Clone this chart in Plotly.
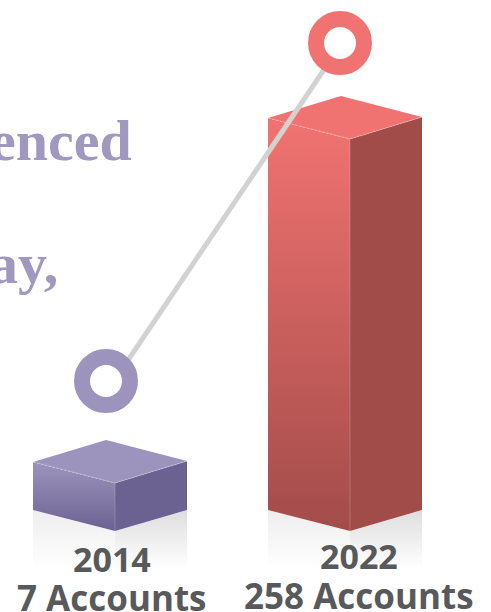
import plotly.graph_objects as go

years = ["2014", "2022"]
accounts = [7, 258]
labels = ["7 Accounts", "258 Accounts"]
front_x = [115, 350]
top_fill = ["#9d94bd", "#f17371"]
front_top = ["#9d94bd", "#f17371"]
front_bottom = ["#6b6292", "#a24c4a"]
side_fill = ["#6b6292", "#a24c4a"]
heading_words = ["enced", "ay,"]

W, H = 491, 612
S = 1.3705                # px per account, bars
BASE_PX = 531
y_top = 7 + 483 / S
y_bot = 7 - (H - 483) / S
y2_s = 1.3466             # px per account, trend line
y2_top = 7 + 381 / y2_s
y2_bot = 7 - (H - 381) / y2_s


def u(px):
    """pixel row to account units on the bar axis"""
    return y_top - px / S


fig = go.Figure()


def poly(xs, ys, color=None, grad=None, yaxis="y"):
    kw = dict(fillgradient=dict(type="vertical", colorscale=grad)) if grad else dict(fillcolor=color)
    fig.add_trace(go.Scatter(x=xs, y=ys, mode="lines", fill="toself", line=dict(width=0),
                             hoverinfo="skip", showlegend=False, yaxis=yaxis, **kw))


def edge(xs, ys, dash="solid", color="rgba(255,255,255,0.4)"):
    fig.add_trace(go.Scatter(x=xs, y=ys, mode="lines", line=dict(width=0.8, color=color, dash=dash),
                             hoverinfo="skip", showlegend=False))


for i, v in enumerate(accounts):
    fx = front_x[i]
    lx, bx, rx = fx - 82, fx - 9, fx + 72
    base_f, base_s = u(BASE_PX), u(BASE_PX - 21)
    refl = u(BASE_PX + 38)
    # reflection
    poly([lx, fx, fx, lx, lx], [base_s, base_f, refl, refl, base_s],
         grad=[[0, "#ffffff"], [1, "#eeeeee"]])
    poly([fx, rx, rx, fx, fx], [base_f, base_s, refl, refl, base_f],
         grad=[[0, "#ffffff"], [1, "#dedede"]])
    # faces
    poly([lx, fx, fx, lx, lx], [v + 21 / S, v, base_f, base_s, v + 21 / S],
         grad=[[0, front_bottom[i]], [1, front_top[i]]])
    poly([fx, rx, rx, fx, fx], [v, v + 22 / S, base_s, base_f, v], color=side_fill[i])
    poly([lx, bx, rx, fx, lx], [v + 21 / S, v + 43 / S, v + 22 / S, v, v + 21 / S], color=top_fill[i])
    edge([lx, fx], [v + 21 / S, v], dash="2px,2px", color="rgba(255,255,255,0.5)")
    edge([fx, rx], [v, v + 22 / S], color="rgba(255,255,255,0.35)")
    edge([fx, fx], [v, base_f], color="rgba(255,255,255,0.25)")

# trend line and ring markers on the second axis
dot_x = [106, 340]
line_x = [114, 342]
fig.add_trace(go.Scatter(x=line_x, y=accounts, yaxis="y2", mode="lines",
                         line=dict(color="#d2d2d2", width=5), hoverinfo="skip", showlegend=False))
fig.add_trace(go.Scatter(x=dot_x, y=accounts, yaxis="y2", mode="markers",
                         marker=dict(size=48, color="#ffffff", line=dict(width=16, color=["#9d94bd", "#f17371"])),
                         hoverinfo="skip", showlegend=False))

label_rows = [(559, 597), (556, 595)]
label_cx = [112, 359]
label_sizes = (34, 35)
for i in range(2):
    for txt, row, fs in zip((years[i], labels[i]), label_rows[i], label_sizes):
        fig.add_annotation(x=label_cx[i], y=u(row), text=f"<b>{txt}</b>", showarrow=False,
                           xanchor="center", yanchor="middle",
                           font=dict(family="Open Sans", size=fs, color="#58595b"))

for txt, right, row in zip(heading_words, (134, 60), (140, 263)):
    fig.add_annotation(x=right, y=u(row), text=f"<b>{txt}</b>", showarrow=False,
                       xanchor="right", yanchor="middle",
                       font=dict(family="Liberation Serif", size=58, color="#a098bf"))

axis = dict(visible=False, fixedrange=True)
fig.update_layout(
    width=W, height=H, margin=dict(l=0, r=0, t=0, b=0),
    paper_bgcolor="#ffffff", plot_bgcolor="#ffffff", showlegend=False,
    xaxis=dict(range=[0, W], **axis),
    yaxis=dict(range=[y_bot, y_top], **axis),
    yaxis2=dict(range=[y2_bot, y2_top], overlaying="y", **axis),
)
fig.write_html("out.html", post_script="document.body.style.margin='0';document.documentElement.style.overflow='hidden';",
               config={"displayModeBar": False})
